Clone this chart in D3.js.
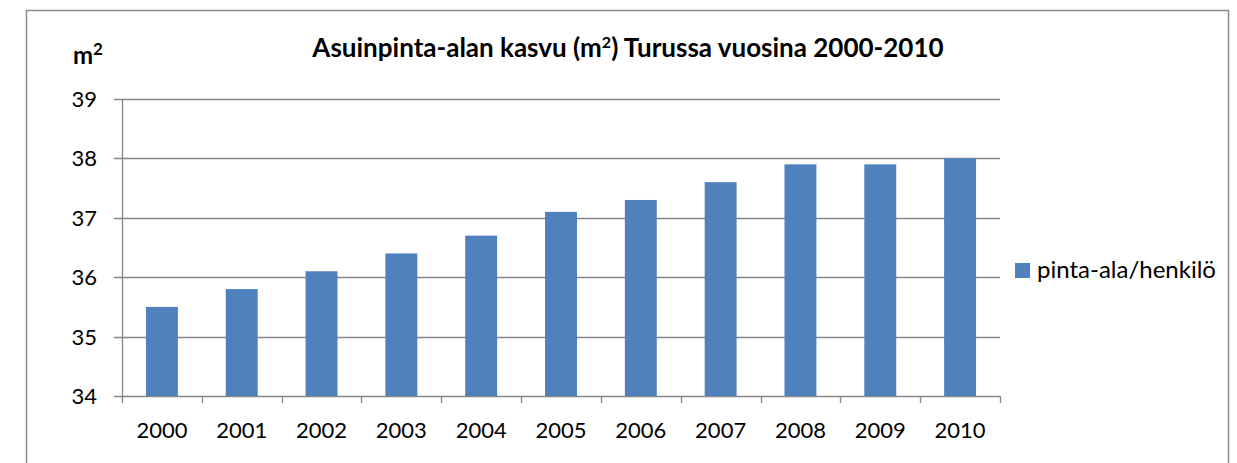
<!DOCTYPE html>
<html>
<head>
<meta charset="utf-8">
<script src="https://cdn.jsdelivr.net/npm/d3@7"></script>
<style>
  html, body { margin: 0; padding: 0; background: #fff; }
  svg { display: block; }
  text { font-family: Lato, "Open Sans", "Liberation Sans", sans-serif; }
</style>
</head>
<body>
<svg id="chart" width="1237" height="463"></svg>
<script>
// Living space per resident in Turku, 2000–2010
const years = ["2000","2001","2002","2003","2004","2005","2006","2007","2008","2009","2010"];
const areaPerPerson = [35.5, 35.8, 36.1, 36.4, 36.7, 37.1, 37.3, 37.6, 37.9, 37.9, 38.0];
const yTicks = [34, 35, 36, 37, 38, 39];
const seriesName = "pinta-ala/henkilö";

const svg = d3.select("#chart");
const gridColor = "#868686";
const barColor = "#4F81BD";

// outer chart frame
svg.append("rect")
  .attr("x", 26.5).attr("y", 10.5)
  .attr("width", 1202).attr("height", 470)
  .attr("fill", "none").attr("stroke", "#8c8c8c").attr("stroke-width", 1.5);

const plot = { left: 122, right: 1000, top: 99, bottom: 396 };

const x = d3.scaleBand().domain(years).range([plot.left, plot.right]).paddingInner(0).paddingOuter(0);
const y = d3.scaleLinear().domain([34, 39]).range([plot.bottom, plot.top]);

// horizontal gridlines
svg.append("g")
  .selectAll("line")
  .data(yTicks)
  .join("line")
  .attr("x1", plot.left - 8).attr("x2", plot.right)
  .attr("y1", d => Math.round(y(d)) + 0.5).attr("y2", d => Math.round(y(d)) + 0.5)
  .attr("stroke", gridColor).attr("stroke-width", 1.3);

// y axis line
svg.append("line")
  .attr("x1", plot.left + 0.5).attr("x2", plot.left + 0.5)
  .attr("y1", plot.top).attr("y2", plot.bottom)
  .attr("stroke", gridColor).attr("stroke-width", 1.3);

// y tick labels
svg.append("g")
  .selectAll("text")
  .data(yTicks)
  .join("text")
  .attr("x", 97).attr("y", d => y(d))
  .attr("dy", "0.36em")
  .attr("text-anchor", "end")
  .attr("font-size", 22)
  .attr("fill", "#000")
  .text(d => d);

// x axis ticks at category boundaries
const boundaries = years.map(d => x(d)).concat([plot.right]);
svg.append("g")
  .selectAll("line")
  .data(boundaries)
  .join("line")
  .attr("x1", d => Math.round(d) + 0.5).attr("x2", d => Math.round(d) + 0.5)
  .attr("y1", plot.bottom).attr("y2", plot.bottom + 7)
  .attr("stroke", gridColor).attr("stroke-width", 1.3);

// bars
const barW = x.bandwidth() * 0.4;
svg.append("g")
  .selectAll("rect")
  .data(years.map((yr, i) => ({ yr, v: areaPerPerson[i] })))
  .join("rect")
  .attr("x", d => x(d.yr) + (x.bandwidth() - barW) / 2)
  .attr("y", d => y(d.v))
  .attr("width", barW)
  .attr("height", d => y(34) - y(d.v))
  .attr("fill", barColor);

// x tick labels
svg.append("g")
  .selectAll("text")
  .data(years)
  .join("text")
  .attr("x", d => x(d) + x.bandwidth() / 2)
  .attr("y", 438)
  .attr("text-anchor", "middle")
  .attr("font-size", 22)
  .attr("fill", "#000")
  .text(d => d);

// title
const title = svg.append("text")
  .attr("x", 628).attr("y", 57)
  .attr("text-anchor", "middle")
  .attr("font-size", 26).attr("font-weight", "bold")
  .attr("fill", "#000");
title.append("tspan").text("Asuinpinta-alan kasvu (m");
title.append("tspan").attr("font-size", 16).attr("dy", -9).text("2");
title.append("tspan").attr("dy", 9).text(") Turussa vuosina 2000-2010");

// unit label
const unit = svg.append("text")
  .attr("x", 73).attr("y", 64)
  .attr("font-size", 24).attr("font-weight", "bold")
  .attr("fill", "#000");
unit.append("tspan").text("m");
unit.append("tspan").attr("font-size", 17).attr("dy", -9).text("2");

// legend
svg.append("rect")
  .attr("x", 1015).attr("y", 263)
  .attr("width", 15).attr("height", 15)
  .attr("fill", barColor);
svg.append("text")
  .attr("x", 1037).attr("y", 278)
  .attr("font-size", 24)
  .attr("fill", "#000")
  .text(seriesName);
</script>
</body>
</html>
